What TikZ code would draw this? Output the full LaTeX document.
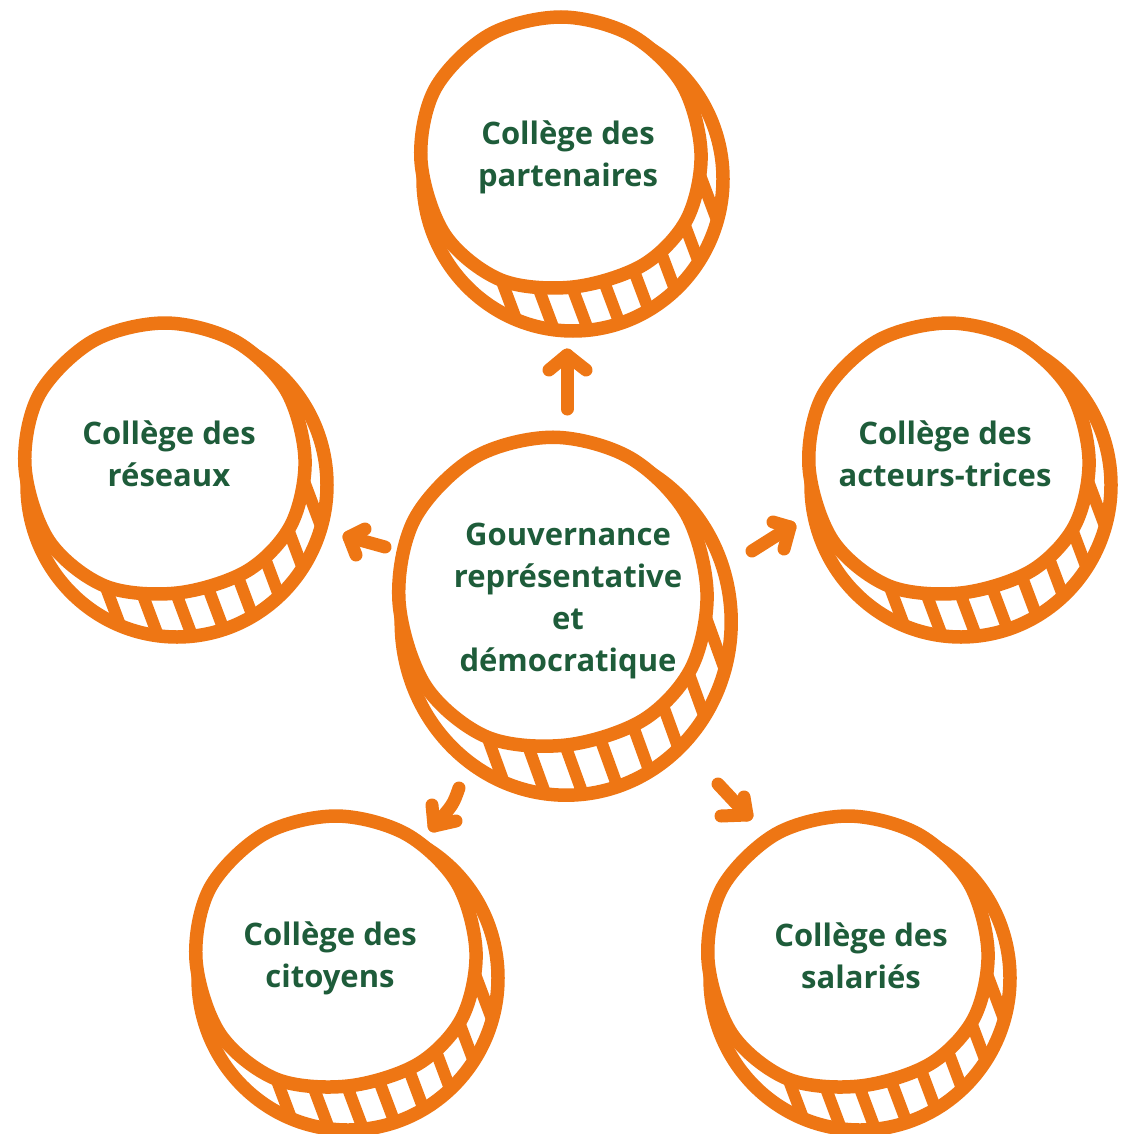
\documentclass[tikz,border=0pt]{standalone}
\usepackage{fontspec}
\setmainfont{Open Sans}
\definecolor{corange}{HTML}{EE7614}
\definecolor{cgreen}{HTML}{1E5C3A}
\tikzset{
  x=1pt, y=-1pt,
  coinline/.style={draw=corange, line width=13.5pt, line join=round, line cap=round},
  stripe/.style={draw=corange, line width=12pt},
  arr/.style={draw=corange, line width=13pt, line join=round, line cap=round},
  lbl/.style={text=cgreen, align=center, font=\fontsize{31}{42}\selectfont\bfseries, inner sep=0pt},
  coin/.pic={
    \fill[white] (12,28) ellipse [x radius=150, y radius=152];
    \begin{scope}
      \clip (12,28) ellipse [x radius=150, y radius=152];
      \foreach \c in {-108,-74,-40,-6,28,62,96,130}
        \draw[stripe] (\c,0) -- ({\c+0.375*220},220);
    \end{scope}
    \draw[coinline] (12,28) ellipse [x radius=150, y radius=152];
    \filldraw[coinline, fill=white] plot[smooth cycle, tension=0.55] coordinates {(0,-134) (70,-116) (121,-67) (140,2) (126,68) (82,114) (12,136) (-60,129) (-116,84) (-140,10) (-126,-62) (-72,-116)};
  }
}
\begin{document}
\begin{tikzpicture}
\useasboundingbox (0,0) rectangle (1124,1134);
% coins
\pic at (561,151) {coin};
\pic at (165,457) {coin};
\pic at (949,457) {coin};
\pic at (336,950) {coin};
\pic at (848,950) {coin};
\pic[xscale=1.1, yscale=1.14] at (553,590) {coin};
% labels
\node[lbl] (gouv) at (568,601) {Gouvernance\\représentative\\et\\démocratique};
\node[lbl] (part) at (568,157) {Collège des\\partenaires};
\node[lbl] (res) at (169,454) {Collège des\\réseaux};
\node[lbl] (act) at (945,454) {Collège des\\acteurs-trices};
\node[lbl] (cit) at (330,958) {Collège des\\citoyens};
\node[lbl] (sal) at (861,956) {Collège des\\salariés};
% arrows
\coordinate (uT) at (567,409); \coordinate (uH) at (567,355);
\coordinate (uA) at (549,370); \coordinate (uB) at (586,370);
\draw[arr] (uT) -- (uH); \draw[arr] (uA) -- (uH) -- (uB);
\coordinate (lT) at (385,547); \coordinate (lH) at (349,537);
\coordinate (lA) at (365,529); \coordinate (lB) at (356,555);
\draw[arr] (lT) -- (lH); \draw[arr] (lA) -- (lH) -- (lB);
\coordinate (rT) at (752,551); \coordinate (rH) at (790,527);
\coordinate (rA) at (773,522); \coordinate (rB) at (784,549);
\draw[arr] (rT) -- (rH); \draw[arr] (rA) -- (rH) -- (rB);
\coordinate (dlT) at (459,788); \coordinate (dlH) at (434,826);
\coordinate (dlA) at (432,805); \coordinate (dlB) at (456,821);
\draw[arr] (dlT) .. controls (453,805) .. (dlH); \draw[arr] (dlA) -- (dlH) -- (dlB);
\coordinate (drT) at (718,784); \coordinate (drH) at (747,815);
\coordinate (drA) at (744,797); \coordinate (drB) at (721,816);
\draw[arr] (drT) -- (drH); \draw[arr] (drA) -- (drH) -- (drB);
\end{tikzpicture}
\end{document}
